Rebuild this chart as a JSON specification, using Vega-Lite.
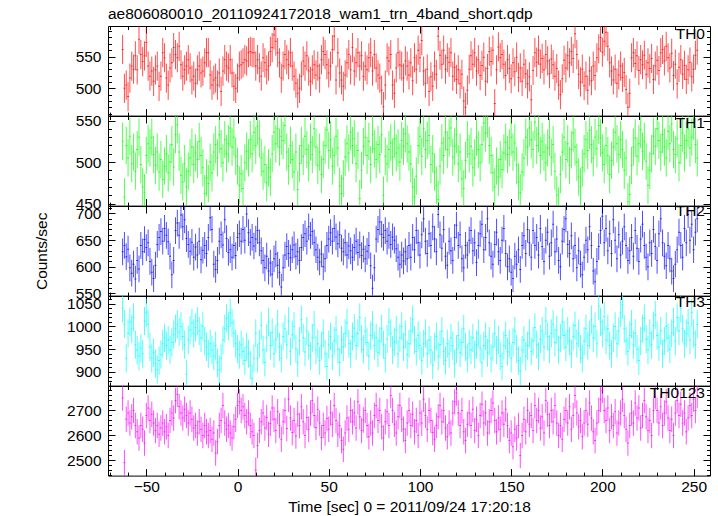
{
"$schema": "https://vega.github.io/schema/vega-lite/v6.json",
"padding": {"left": 33, "top": 7, "right": 0, "bottom": 0},
"title": {"text": "ae806080010_20110924172018_wam1_trn_4band_short.qdp", "anchor": "start", "frame": "group", "offset": 1},
"datasets": {"lc": [
{"t":-63,"a":561,"b":525,"c":628,"d":1040,"e":2750},
{"t":-62,"a":500,"b":458,"c":640,"d":1005,"e":2490},
{"t":-61,"a":505,"b":520,"c":619,"d":930,"e":2665},
{"t":-60,"a":487,"b":505,"c":633,"d":985,"e":2690},
{"t":-59,"a":516,"b":531,"c":598,"d":1010,"e":2650},
{"t":-58,"a":535,"b":498,"c":588,"d":995,"e":2675},
{"t":-57,"a":530,"b":512,"c":605,"d":1020,"e":2700},
{"t":-56,"a":551,"b":489,"c":577,"d":960,"e":2640},
{"t":-55,"a":529,"b":515,"c":612,"d":948,"e":2615},
{"t":-54,"a":577,"b":530,"c":596,"d":935,"e":2590},
{"t":-53,"a":553,"b":497,"c":640,"d":952,"e":2640},
{"t":-52,"a":542,"b":470,"c":628,"d":940,"e":2625},
{"t":-51,"a":551,"b":463,"c":651,"d":1012,"e":2570},
{"t":-50,"a":572,"b":508,"c":636,"d":1030,"e":2680},
{"t":-49,"a":535,"b":522,"c":645,"d":1005,"e":2710},
{"t":-48,"a":519,"b":517,"c":610,"d":955,"e":2660},
{"t":-47,"a":527,"b":530,"c":590,"d":930,"e":2685},
{"t":-46,"a":511,"b":509,"c":578,"d":942,"e":2650},
{"t":-45,"a":529,"b":496,"c":603,"d":918,"e":2620},
{"t":-44,"a":535,"b":512,"c":642,"d":905,"e":2640},
{"t":-43,"a":503,"b":488,"c":655,"d":925,"e":2605},
{"t":-42,"a":519,"b":503,"c":666,"d":938,"e":2630},
{"t":-41,"a":556,"b":479,"c":648,"d":962,"e":2650},
{"t":-40,"a":548,"b":495,"c":672,"d":975,"e":2615},
{"t":-39,"a":516,"b":510,"c":659,"d":958,"e":2635},
{"t":-38,"a":505,"b":487,"c":647,"d":970,"e":2600},
{"t":-37,"a":532,"b":500,"c":620,"d":948,"e":2660},
{"t":-36,"a":540,"b":521,"c":585,"d":965,"e":2690},
{"t":-35,"a":564,"b":494,"c":612,"d":982,"e":2670},
{"t":-34,"a":553,"b":533,"c":668,"d":995,"e":2740},
{"t":-33,"a":548,"b":545,"c":682,"d":1005,"e":2765},
{"t":-32,"a":566,"b":512,"c":659,"d":988,"e":2715},
{"t":-31,"a":537,"b":484,"c":697,"d":1000,"e":2690},
{"t":-30,"a":519,"b":476,"c":675,"d":978,"e":2670},
{"t":-29,"a":529,"b":498,"c":688,"d":960,"e":2705},
{"t":-28,"a":535,"b":470,"c":653,"d":895,"e":2680},
{"t":-27,"a":545,"b":489,"c":642,"d":970,"e":2650},
{"t":-26,"a":532,"b":505,"c":629,"d":992,"e":2690},
{"t":-25,"a":513,"b":518,"c":646,"d":1008,"e":2665},
{"t":-24,"a":519,"b":497,"c":618,"d":985,"e":2630},
{"t":-23,"a":508,"b":511,"c":637,"d":998,"e":2640},
{"t":-22,"a":529,"b":503,"c":622,"d":1012,"e":2610},
{"t":-21,"a":535,"b":525,"c":648,"d":990,"e":2655},
{"t":-20,"a":524,"b":508,"c":613,"d":975,"e":2625},
{"t":-19,"a":527,"b":493,"c":631,"d":1000,"e":2600},
{"t":-18,"a":540,"b":462,"c":640,"d":968,"e":2640},
{"t":-17,"a":556,"b":481,"c":625,"d":955,"e":2615},
{"t":-16,"a":556,"b":474,"c":655,"d":940,"e":2600},
{"t":-15,"a":521,"b":500,"c":692,"d":962,"e":2620},
{"t":-14,"a":505,"b":487,"c":670,"d":948,"e":2585},
{"t":-13,"a":513,"b":512,"c":605,"d":935,"e":2610},
{"t":-12,"a":516,"b":521,"c":595,"d":958,"e":2530},
{"t":-11,"a":505,"b":505,"c":612,"d":920,"e":2575},
{"t":-10,"a":524,"b":533,"c":648,"d":905,"e":2640},
{"t":-9,"a":495,"b":516,"c":660,"d":930,"e":2660},
{"t":-8,"a":527,"b":499,"c":641,"d":970,"e":2720},
{"t":-7,"a":545,"b":527,"c":688,"d":995,"e":2650},
{"t":-6,"a":535,"b":510,"c":653,"d":1018,"e":2625},
{"t":-5,"a":532,"b":522,"c":627,"d":1000,"e":2640},
{"t":-4,"a":545,"b":541,"c":632,"d":1030,"e":2610},
{"t":-3,"a":524,"b":518,"c":618,"d":1008,"e":2590},
{"t":-2,"a":503,"b":530,"c":640,"d":985,"e":2635},
{"t":-1,"a":500,"b":507,"c":621,"d":962,"e":2665},
{"t":0,"a":516,"b":495,"c":655,"d":950,"e":2720},
{"t":1,"a":535,"b":472,"c":662,"d":938,"e":2735},
{"t":2,"a":537,"b":486,"c":648,"d":960,"e":2700},
{"t":3,"a":540,"b":468,"c":670,"d":945,"e":2715},
{"t":4,"a":545,"b":499,"c":650,"d":925,"e":2680},
{"t":5,"a":543,"b":513,"c":699,"d":955,"e":2655},
{"t":6,"a":556,"b":505,"c":664,"d":940,"e":2690},
{"t":7,"a":558,"b":527,"c":646,"d":915,"e":2640},
{"t":8,"a":556,"b":510,"c":655,"d":885,"e":2615},
{"t":9,"a":556,"b":536,"c":639,"d":930,"e":2600},
{"t":10,"a":535,"b":520,"c":652,"d":985,"e":2460},
{"t":11,"a":545,"b":543,"c":668,"d":930,"e":2560},
{"t":12,"a":532,"b":528,"c":645,"d":962,"e":2620},
{"t":13,"a":519,"b":505,"c":630,"d":1002,"e":2655},
{"t":14,"a":548,"b":489,"c":612,"d":948,"e":2690},
{"t":15,"a":540,"b":497,"c":598,"d":921,"e":2630},
{"t":16,"a":529,"b":475,"c":620,"d":975,"e":2672},
{"t":17,"a":535,"b":493,"c":592,"d":1010,"e":2605},
{"t":18,"a":558,"b":482,"c":607,"d":958,"e":2648},
{"t":19,"a":564,"b":510,"c":586,"d":987,"e":2710},
{"t":20,"a":584,"b":536,"c":615,"d":940,"e":2665},
{"t":21,"a":574,"b":522,"c":624,"d":972,"e":2620},
{"t":22,"a":556,"b":540,"c":603,"d":1005,"e":2695},
{"t":23,"a":540,"b":518,"c":590,"d":955,"e":2640},
{"t":24,"a":516,"b":531,"c":562,"d":930,"e":2585},
{"t":25,"a":535,"b":526,"c":598,"d":978,"e":2655},
{"t":26,"a":553,"b":544,"c":622,"d":995,"e":2700},
{"t":27,"a":545,"b":512,"c":638,"d":960,"e":2628},
{"t":28,"a":537,"b":495,"c":625,"d":1012,"e":2745},
{"t":29,"a":556,"b":520,"c":617,"d":945,"e":2670},
{"t":30,"a":535,"b":503,"c":632,"d":982,"e":2612},
{"t":31,"a":519,"b":488,"c":641,"d":1000,"e":2660},
{"t":32,"a":508,"b":512,"c":620,"d":951,"e":2598},
{"t":33,"a":492,"b":467,"c":628,"d":920,"e":2685},
{"t":34,"a":500,"b":498,"c":612,"d":968,"e":2640},
{"t":35,"a":519,"b":520,"c":636,"d":1015,"e":2715},
{"t":36,"a":543,"b":507,"c":655,"d":975,"e":2655},
{"t":37,"a":535,"b":531,"c":662,"d":944,"e":2600},
{"t":38,"a":551,"b":515,"c":648,"d":990,"e":2672},
{"t":39,"a":527,"b":499,"c":675,"d":958,"e":2625},
{"t":40,"a":511,"b":524,"c":659,"d":935,"e":2690},
{"t":41,"a":529,"b":509,"c":666,"d":975,"e":2740},
{"t":42,"a":537,"b":540,"c":645,"d":1003,"e":2680},
{"t":43,"a":521,"b":518,"c":632,"d":948,"e":2632},
{"t":44,"a":535,"b":496,"c":618,"d":962,"e":2705},
{"t":45,"a":516,"b":512,"c":609,"d":925,"e":2650},
{"t":46,"a":545,"b":485,"c":624,"d":958,"e":2592},
{"t":47,"a":558,"b":503,"c":600,"d":985,"e":2640},
{"t":48,"a":553,"b":520,"c":615,"d":940,"e":2610},
{"t":49,"a":537,"b":539,"c":640,"d":912,"e":2668},
{"t":50,"a":524,"b":514,"c":652,"d":960,"e":2625},
{"t":51,"a":535,"b":527,"c":664,"d":978,"e":2690},
{"t":52,"a":561,"b":495,"c":648,"d":935,"e":2645},
{"t":53,"a":582,"b":508,"c":672,"d":968,"e":2720},
{"t":54,"a":513,"b":531,"c":656,"d":992,"e":2660},
{"t":55,"a":556,"b":517,"c":643,"d":950,"e":2605},
{"t":56,"a":524,"b":471,"c":660,"d":921,"e":2640},
{"t":57,"a":513,"b":462,"c":635,"d":970,"e":2580},
{"t":58,"a":503,"b":480,"c":628,"d":955,"e":2545},
{"t":59,"a":521,"b":506,"c":645,"d":985,"e":2610},
{"t":60,"a":540,"b":522,"c":622,"d":1008,"e":2670},
{"t":61,"a":553,"b":511,"c":639,"d":962,"e":2625},
{"t":62,"a":529,"b":536,"c":630,"d":940,"e":2700},
{"t":63,"a":564,"b":520,"c":618,"d":978,"e":2655},
{"t":64,"a":527,"b":528,"c":636,"d":996,"e":2690},
{"t":65,"a":540,"b":498,"c":648,"d":958,"e":2630},
{"t":66,"a":556,"b":514,"c":627,"d":985,"e":2735},
{"t":67,"a":535,"b":456,"c":641,"d":1020,"e":2675},
{"t":68,"a":551,"b":490,"c":621,"d":972,"e":2620},
{"t":69,"a":519,"b":519,"c":633,"d":950,"e":2662},
{"t":70,"a":535,"b":530,"c":615,"d":990,"e":2700},
{"t":71,"a":529,"b":508,"c":629,"d":965,"e":2640},
{"t":72,"a":548,"b":525,"c":640,"d":935,"e":2595},
{"t":73,"a":556,"b":497,"c":602,"d":980,"e":2650},
{"t":74,"a":527,"b":533,"c":560,"d":1003,"e":2610},
{"t":75,"a":553,"b":516,"c":598,"d":958,"e":2680},
{"t":76,"a":532,"b":503,"c":652,"d":975,"e":2720},
{"t":77,"a":521,"b":521,"c":670,"d":942,"e":2660},
{"t":78,"a":516,"b":509,"c":684,"d":968,"e":2700},
{"t":79,"a":497,"b":533,"c":661,"d":995,"e":2635},
{"t":80,"a":471,"b":460,"c":655,"d":960,"e":2590},
{"t":81,"a":505,"b":507,"c":668,"d":930,"e":2655},
{"t":82,"a":548,"b":498,"c":648,"d":972,"e":2695},
{"t":83,"a":543,"b":515,"c":659,"d":1010,"e":2640},
{"t":84,"a":553,"b":523,"c":642,"d":985,"e":2760},
{"t":85,"a":505,"b":506,"c":656,"d":948,"e":2700},
{"t":86,"a":492,"b":528,"c":650,"d":966,"e":2645},
{"t":87,"a":532,"b":511,"c":634,"d":992,"e":2610},
{"t":88,"a":556,"b":517,"c":618,"d":940,"e":2675},
{"t":89,"a":537,"b":500,"c":605,"d":975,"e":2720},
{"t":90,"a":535,"b":526,"c":622,"d":1000,"e":2665},
{"t":91,"a":516,"b":519,"c":611,"d":955,"e":2625},
{"t":92,"a":543,"b":534,"c":628,"d":982,"e":2580},
{"t":93,"a":535,"b":522,"c":615,"d":938,"e":2650},
{"t":94,"a":521,"b":512,"c":640,"d":962,"e":2700},
{"t":95,"a":540,"b":498,"c":618,"d":990,"e":2640},
{"t":96,"a":512,"b":470,"c":655,"d":1015,"e":2685},
{"t":97,"a":548,"b":458,"c":632,"d":970,"e":2615},
{"t":98,"a":530,"b":483,"c":668,"d":945,"e":2660},
{"t":99,"a":560,"b":520,"c":645,"d":980,"e":2600},
{"t":100,"a":548,"b":531,"c":622,"d":958,"e":2690},
{"t":101,"a":575,"b":507,"c":660,"d":925,"e":2650},
{"t":102,"a":527,"b":540,"c":690,"d":962,"e":2745},
{"t":103,"a":508,"b":515,"c":648,"d":985,"e":2680},
{"t":104,"a":530,"b":526,"c":625,"d":940,"e":2625},
{"t":105,"a":495,"b":532,"c":662,"d":970,"e":2700},
{"t":106,"a":518,"b":497,"c":640,"d":948,"e":2660},
{"t":107,"a":503,"b":510,"c":675,"d":915,"e":2612},
{"t":108,"a":535,"b":488,"c":652,"d":955,"e":2585},
{"t":109,"a":522,"b":472,"c":628,"d":978,"e":2640},
{"t":110,"a":582,"b":455,"c":698,"d":935,"e":2675},
{"t":111,"a":552,"b":495,"c":660,"d":960,"e":2720},
{"t":112,"a":538,"b":523,"c":635,"d":990,"e":2655},
{"t":113,"a":560,"b":508,"c":670,"d":945,"e":2700},
{"t":114,"a":530,"b":536,"c":620,"d":925,"e":2630},
{"t":115,"a":548,"b":515,"c":603,"d":962,"e":2595},
{"t":116,"a":541,"b":529,"c":648,"d":940,"e":2650},
{"t":117,"a":556,"b":541,"c":630,"d":975,"e":2610},
{"t":118,"a":519,"b":506,"c":612,"d":958,"e":2690},
{"t":119,"a":533,"b":519,"c":655,"d":918,"e":2735},
{"t":120,"a":514,"b":533,"c":678,"d":950,"e":2770},
{"t":121,"a":529,"b":498,"c":640,"d":980,"e":2690},
{"t":122,"a":507,"b":512,"c":660,"d":942,"e":2640},
{"t":123,"a":522,"b":480,"c":615,"d":965,"e":2700},
{"t":124,"a":480,"b":468,"c":598,"d":995,"e":2615},
{"t":125,"a":470,"b":502,"c":640,"d":955,"e":2580},
{"t":126,"a":497,"b":527,"c":622,"d":930,"e":2645},
{"t":127,"a":530,"b":510,"c":650,"d":962,"e":2690},
{"t":128,"a":551,"b":519,"c":668,"d":948,"e":2640},
{"t":129,"a":538,"b":493,"c":630,"d":975,"e":2705},
{"t":130,"a":556,"b":505,"c":645,"d":938,"e":2620},
{"t":131,"a":527,"b":530,"c":608,"d":960,"e":2665},
{"t":132,"a":545,"b":515,"c":640,"d":985,"e":2600},
{"t":133,"a":520,"b":499,"c":662,"d":952,"e":2680},
{"t":134,"a":536,"b":521,"c":680,"d":920,"e":2725},
{"t":135,"a":549,"b":547,"c":632,"d":958,"e":2650},
{"t":136,"a":511,"b":535,"c":655,"d":978,"e":2690},
{"t":137,"a":531,"b":552,"c":690,"d":942,"e":2610},
{"t":138,"a":558,"b":520,"c":645,"d":968,"e":2655},
{"t":139,"a":542,"b":508,"c":620,"d":930,"e":2700},
{"t":140,"a":560,"b":487,"c":605,"d":955,"e":2730},
{"t":141,"a":476,"b":470,"c":642,"d":985,"e":2660},
{"t":142,"a":529,"b":495,"c":665,"d":948,"e":2615},
{"t":143,"a":565,"b":482,"c":628,"d":970,"e":2670},
{"t":144,"a":548,"b":503,"c":612,"d":935,"e":2625},
{"t":145,"a":553,"b":491,"c":650,"d":912,"e":2690},
{"t":146,"a":538,"b":511,"c":672,"d":958,"e":2645},
{"t":147,"a":520,"b":524,"c":625,"d":980,"e":2705},
{"t":148,"a":545,"b":509,"c":600,"d":945,"e":2640},
{"t":149,"a":531,"b":517,"c":615,"d":962,"e":2580},
{"t":150,"a":515,"b":530,"c":590,"d":930,"e":2610},
{"t":151,"a":540,"b":512,"c":578,"d":965,"e":2555},
{"t":152,"a":526,"b":523,"c":620,"d":990,"e":2625},
{"t":153,"a":549,"b":496,"c":605,"d":950,"e":2590},
{"t":154,"a":517,"b":476,"c":632,"d":925,"e":2640},
{"t":155,"a":532,"b":463,"c":595,"d":902,"e":2520},
{"t":156,"a":511,"b":488,"c":640,"d":948,"e":2600},
{"t":157,"a":538,"b":505,"c":658,"d":970,"e":2665},
{"t":158,"a":523,"b":530,"c":625,"d":935,"e":2615},
{"t":159,"a":507,"b":518,"c":670,"d":958,"e":2700},
{"t":160,"a":518,"b":541,"c":645,"d":985,"e":2645},
{"t":161,"a":482,"b":527,"c":618,"d":945,"e":2680},
{"t":162,"a":528,"b":515,"c":668,"d":968,"e":2620},
{"t":163,"a":556,"b":548,"c":640,"d":998,"e":2720},
{"t":164,"a":541,"b":520,"c":655,"d":960,"e":2660},
{"t":165,"a":560,"b":534,"c":622,"d":935,"e":2700},
{"t":166,"a":538,"b":508,"c":672,"d":972,"e":2630},
{"t":167,"a":547,"b":525,"c":638,"d":990,"e":2675},
{"t":168,"a":529,"b":512,"c":610,"d":955,"e":2610},
{"t":169,"a":553,"b":499,"c":650,"d":1012,"e":2740},
{"t":170,"a":543,"b":517,"c":665,"d":978,"e":2685},
{"t":171,"a":523,"b":530,"c":620,"d":950,"e":2640},
{"t":172,"a":546,"b":506,"c":645,"d":985,"e":2700},
{"t":173,"a":537,"b":521,"c":680,"d":1005,"e":2655},
{"t":174,"a":519,"b":489,"c":628,"d":965,"e":2720},
{"t":175,"a":531,"b":460,"c":652,"d":992,"e":2650},
{"t":176,"a":505,"b":447,"c":612,"d":948,"e":2600},
{"t":177,"a":490,"b":485,"c":600,"d":975,"e":2640},
{"t":178,"a":515,"b":512,"c":648,"d":1010,"e":2585},
{"t":179,"a":544,"b":530,"c":670,"d":980,"e":2665},
{"t":180,"a":532,"b":503,"c":690,"d":955,"e":2700},
{"t":181,"a":551,"b":522,"c":642,"d":990,"e":2650},
{"t":182,"a":540,"b":496,"c":625,"d":968,"e":2715},
{"t":183,"a":558,"b":515,"c":658,"d":940,"e":2625},
{"t":184,"a":547,"b":535,"c":615,"d":978,"e":2680},
{"t":185,"a":586,"b":518,"c":640,"d":1002,"e":2760},
{"t":186,"a":553,"b":500,"c":598,"d":962,"e":2690},
{"t":187,"a":522,"b":482,"c":630,"d":985,"e":2635},
{"t":188,"a":510,"b":470,"c":605,"d":950,"e":2660},
{"t":189,"a":530,"b":493,"c":585,"d":930,"e":2595},
{"t":190,"a":504,"b":510,"c":618,"d":968,"e":2650},
{"t":191,"a":519,"b":527,"c":650,"d":995,"e":2700},
{"t":192,"a":497,"b":514,"c":632,"d":958,"e":2645},
{"t":193,"a":527,"b":538,"c":675,"d":982,"e":2730},
{"t":194,"a":512,"b":521,"c":640,"d":1015,"e":2670},
{"t":195,"a":535,"b":505,"c":592,"d":975,"e":2615},
{"t":196,"a":520,"b":530,"c":572,"d":1000,"e":2580},
{"t":197,"a":548,"b":516,"c":610,"d":962,"e":2650},
{"t":198,"a":562,"b":544,"c":638,"d":1045,"e":2700},
{"t":199,"a":580,"b":529,"c":668,"d":1010,"e":2745},
{"t":200,"a":557,"b":511,"c":695,"d":985,"e":2780},
{"t":201,"a":574,"b":497,"c":645,"d":1022,"e":2700},
{"t":202,"a":588,"b":520,"c":672,"d":970,"e":2660},
{"t":203,"a":566,"b":508,"c":630,"d":995,"e":2710},
{"t":204,"a":540,"b":485,"c":662,"d":958,"e":2620},
{"t":205,"a":527,"b":502,"c":625,"d":940,"e":2675},
{"t":206,"a":513,"b":518,"c":688,"d":975,"e":2640},
{"t":207,"a":530,"b":536,"c":650,"d":1000,"e":2695},
{"t":208,"a":508,"b":522,"c":615,"d":962,"e":2610},
{"t":209,"a":521,"b":509,"c":660,"d":990,"e":2650},
{"t":210,"a":535,"b":527,"c":622,"d":1030,"e":2690},
{"t":211,"a":517,"b":515,"c":648,"d":1048,"e":2745},
{"t":212,"a":525,"b":490,"c":675,"d":995,"e":2680},
{"t":213,"a":498,"b":505,"c":640,"d":968,"e":2625},
{"t":214,"a":470,"b":452,"c":612,"d":945,"e":2570},
{"t":215,"a":492,"b":461,"c":630,"d":980,"e":2640},
{"t":216,"a":548,"b":496,"c":655,"d":1005,"e":2690},
{"t":217,"a":556,"b":518,"c":620,"d":960,"e":2650},
{"t":218,"a":539,"b":529,"c":668,"d":985,"e":2730},
{"t":219,"a":551,"b":507,"c":635,"d":950,"e":2670},
{"t":220,"a":528,"b":522,"c":610,"d":925,"e":2710},
{"t":221,"a":545,"b":539,"c":652,"d":968,"e":2630},
{"t":222,"a":537,"b":513,"c":680,"d":995,"e":2680},
{"t":223,"a":552,"b":525,"c":640,"d":1018,"e":2740},
{"t":224,"a":522,"b":501,"c":618,"d":972,"e":2675},
{"t":225,"a":540,"b":472,"c":600,"d":948,"e":2620},
{"t":226,"a":531,"b":490,"c":645,"d":985,"e":2660},
{"t":227,"a":547,"b":510,"c":625,"d":960,"e":2600},
{"t":228,"a":514,"b":531,"c":670,"d":1002,"e":2700},
{"t":229,"a":535,"b":519,"c":638,"d":1025,"e":2755},
{"t":230,"a":544,"b":540,"c":612,"d":980,"e":2700},
{"t":231,"a":528,"b":526,"c":662,"d":955,"e":2650},
{"t":232,"a":556,"b":512,"c":690,"d":990,"e":2715},
{"t":233,"a":561,"b":533,"c":645,"d":940,"e":2640},
{"t":234,"a":543,"b":518,"c":620,"d":968,"e":2690},
{"t":235,"a":566,"b":505,"c":602,"d":1000,"e":2735},
{"t":236,"a":548,"b":537,"c":640,"d":975,"e":2670},
{"t":237,"a":532,"b":522,"c":615,"d":950,"e":2620},
{"t":238,"a":555,"b":546,"c":592,"d":985,"e":2665},
{"t":239,"a":520,"b":515,"c":578,"d":1010,"e":2600},
{"t":240,"a":538,"b":509,"c":605,"d":968,"e":2690},
{"t":241,"a":507,"b":528,"c":632,"d":1020,"e":2740},
{"t":242,"a":533,"b":499,"c":665,"d":990,"e":2680},
{"t":243,"a":545,"b":520,"c":640,"d":1040,"e":2725},
{"t":244,"a":522,"b":535,"c":618,"d":995,"e":2650},
{"t":245,"a":536,"b":511,"c":672,"d":962,"e":2690},
{"t":246,"a":514,"b":526,"c":645,"d":985,"e":2615},
{"t":247,"a":529,"b":540,"c":698,"d":1008,"e":2670},
{"t":248,"a":541,"b":517,"c":650,"d":970,"e":2720},
{"t":249,"a":518,"b":530,"c":680,"d":1030,"e":2680},
{"t":250,"a":530,"b":549,"c":632,"d":985,"e":2745},
{"t":251,"a":552,"b":521,"c":665,"d":960,"e":2700},
{"t":252,"a":560,"b":505,"c":690,"d":1005,"e":2760}
]},
"data": {"name": "lc"},
"spacing": 0,
"bounds": "flush",
"vconcat": [
{
 "width": 602, "height": 89.6,
 "title": {"text": "TH0", "anchor": "end", "offset": -18, "dx": -5, "frame": "group"},
 "layer": [
  {"mark": {"type": "tick", "orient": "vertical", "color": "#ff0000", "size": 29.2, "thickness": 1, "clip": true},
   "encoding": {
    "x": {"field": "t", "type": "quantitative", "scale": {"domain": [-71, 259], "nice": false, "zero": false},
          "axis": {"orient": "bottom", "values": [-70,-60,-50,-40,-30,-20,-10,0,10,20,30,40,50,60,70,80,90,100,110,120,130,140,150,160,170,180,190,200,210,220,230,240,250], "tickSize": {"condition": {"test": "datum.value % 50 === 0", "value": -7}, "value": -3.5}, "labels": false, "title": null}},
    "y": {"field": "a", "type": "quantitative", "scale": {"domain": [457, 598], "nice": false, "zero": false},
          "axis": {"orient": "left", "values": [460,470,480,490,500,510,520,530,540,550,560,570,580,590], "tickSize": {"condition": {"test": "datum.value % 50 === 0", "value": -7}, "value": -3.5}, "format": "d", "labelExpr": "datum.value % 50 === 0 ? datum.label : ''", "labelPadding": 14, "title": null}}}},
  {"mark": {"type": "tick", "orient": "horizontal", "color": "#ff0000", "size": 2, "thickness": 1, "clip": true},
   "encoding": {
    "x": {"field": "t", "type": "quantitative",
          "axis": {"orient": "top", "values": [-70,-60,-50,-40,-30,-20,-10,0,10,20,30,40,50,60,70,80,90,100,110,120,130,140,150,160,170,180,190,200,210,220,230,240,250], "tickSize": {"condition": {"test": "datum.value % 50 === 0", "value": -7}, "value": -3.5}, "labels": false, "title": null}},
    "y": {"field": "a", "type": "quantitative",
          "axis": {"orient": "right", "values": [460,470,480,490,500,510,520,530,540,550,560,570,580,590], "tickSize": {"condition": {"test": "datum.value % 50 === 0", "value": -7}, "value": -3.5}, "labels": false, "title": null}}}}
 ],
 "resolve": {"axis": {"x": "independent", "y": "independent"}}
},
{
 "width": 602, "height": 89.6,
 "title": {"text": "TH1", "anchor": "end", "offset": -18, "dx": -5, "frame": "group"},
 "layer": [
  {"mark": {"type": "tick", "orient": "vertical", "color": "#00ff00", "size": 37.3, "thickness": 1, "clip": true},
   "encoding": {
    "x": {"field": "t", "type": "quantitative", "scale": {"domain": [-71, 259], "nice": false, "zero": false},
          "axis": {"orient": "bottom", "values": [-70,-60,-50,-40,-30,-20,-10,0,10,20,30,40,50,60,70,80,90,100,110,120,130,140,150,160,170,180,190,200,210,220,230,240,250], "tickSize": {"condition": {"test": "datum.value % 50 === 0", "value": -7}, "value": -3.5}, "labels": false, "title": null}},
    "y": {"field": "b", "type": "quantitative", "scale": {"domain": [447.5, 555.5], "nice": false, "zero": false},
          "axis": {"orient": "left", "values": [450,460,470,480,490,500,510,520,530,540,550], "tickSize": {"condition": {"test": "datum.value % 50 === 0", "value": -7}, "value": -3.5}, "format": "d", "labelExpr": "datum.value % 50 === 0 ? datum.label : ''", "labelPadding": 14, "title": null}}}},
  {"mark": {"type": "tick", "orient": "horizontal", "color": "#00ff00", "size": 2, "thickness": 1, "clip": true},
   "encoding": {
    "x": {"field": "t", "type": "quantitative",
          "axis": {"orient": "top", "values": [-70,-60,-50,-40,-30,-20,-10,0,10,20,30,40,50,60,70,80,90,100,110,120,130,140,150,160,170,180,190,200,210,220,230,240,250], "tickSize": {"condition": {"test": "datum.value % 50 === 0", "value": -7}, "value": -3.5}, "labels": false, "title": null}},
    "y": {"field": "b", "type": "quantitative",
          "axis": {"orient": "right", "values": [450,460,470,480,490,500,510,520,530,540,550], "tickSize": {"condition": {"test": "datum.value % 50 === 0", "value": -7}, "value": -3.5}, "labels": false, "title": null}}}}
 ],
 "resolve": {"axis": {"x": "independent", "y": "independent"}}
},
{
 "width": 602, "height": 89.6,
 "title": {"text": "TH2", "anchor": "end", "offset": -18, "dx": -5, "frame": "group"},
 "layer": [
  {"mark": {"type": "tick", "orient": "vertical", "color": "#0000ff", "size": 26.7, "thickness": 1, "clip": true},
   "encoding": {
    "x": {"field": "t", "type": "quantitative", "scale": {"domain": [-71, 259], "nice": false, "zero": false},
          "axis": {"orient": "bottom", "values": [-70,-60,-50,-40,-30,-20,-10,0,10,20,30,40,50,60,70,80,90,100,110,120,130,140,150,160,170,180,190,200,210,220,230,240,250], "tickSize": {"condition": {"test": "datum.value % 50 === 0", "value": -7}, "value": -3.5}, "labels": false, "title": null}},
    "y": {"field": "c", "type": "quantitative", "scale": {"domain": [546, 714], "nice": false, "zero": false},
          "axis": {"orient": "left", "values": [550,560,570,580,590,600,610,620,630,640,650,660,670,680,690,700,710], "tickSize": {"condition": {"test": "datum.value % 50 === 0", "value": -7}, "value": -3.5}, "format": "d", "labelExpr": "datum.value % 50 === 0 ? datum.label : ''", "labelPadding": 14, "title": "Counts/sec", "titlePadding": 26}}}},
  {"mark": {"type": "tick", "orient": "horizontal", "color": "#0000ff", "size": 2, "thickness": 1, "clip": true},
   "encoding": {
    "x": {"field": "t", "type": "quantitative",
          "axis": {"orient": "top", "values": [-70,-60,-50,-40,-30,-20,-10,0,10,20,30,40,50,60,70,80,90,100,110,120,130,140,150,160,170,180,190,200,210,220,230,240,250], "tickSize": {"condition": {"test": "datum.value % 50 === 0", "value": -7}, "value": -3.5}, "labels": false, "title": null}},
    "y": {"field": "c", "type": "quantitative",
          "axis": {"orient": "right", "values": [550,560,570,580,590,600,610,620,630,640,650,660,670,680,690,700,710], "tickSize": {"condition": {"test": "datum.value % 50 === 0", "value": -7}, "value": -3.5}, "labels": false, "title": null}}}}
 ],
 "resolve": {"axis": {"x": "independent", "y": "independent"}}
},
{
 "width": 602, "height": 89.6,
 "title": {"text": "TH3", "anchor": "end", "offset": -18, "dx": -5, "frame": "group"},
 "layer": [
  {"mark": {"type": "tick", "orient": "vertical", "color": "#00ffff", "size": 28.2, "thickness": 1, "clip": true},
   "encoding": {
    "x": {"field": "t", "type": "quantitative", "scale": {"domain": [-71, 259], "nice": false, "zero": false},
          "axis": {"orient": "bottom", "values": [-70,-60,-50,-40,-30,-20,-10,0,10,20,30,40,50,60,70,80,90,100,110,120,130,140,150,160,170,180,190,200,210,220,230,240,250], "tickSize": {"condition": {"test": "datum.value % 50 === 0", "value": -7}, "value": -3.5}, "labels": false, "title": null}},
    "y": {"field": "d", "type": "quantitative", "scale": {"domain": [870, 1067], "nice": false, "zero": false},
          "axis": {"orient": "left", "values": [870,880,890,900,910,920,930,940,950,960,970,980,990,1000,1010,1020,1030,1040,1050,1060], "tickSize": {"condition": {"test": "datum.value % 50 === 0", "value": -7}, "value": -3.5}, "format": "d", "labelExpr": "datum.value % 50 === 0 ? datum.label : ''", "labelPadding": 14, "title": null}}}},
  {"mark": {"type": "tick", "orient": "horizontal", "color": "#00ffff", "size": 2, "thickness": 1, "clip": true},
   "encoding": {
    "x": {"field": "t", "type": "quantitative",
          "axis": {"orient": "top", "values": [-70,-60,-50,-40,-30,-20,-10,0,10,20,30,40,50,60,70,80,90,100,110,120,130,140,150,160,170,180,190,200,210,220,230,240,250], "tickSize": {"condition": {"test": "datum.value % 50 === 0", "value": -7}, "value": -3.5}, "labels": false, "title": null}},
    "y": {"field": "d", "type": "quantitative",
          "axis": {"orient": "right", "values": [870,880,890,900,910,920,930,940,950,960,970,980,990,1000,1010,1020,1030,1040,1050,1060], "tickSize": {"condition": {"test": "datum.value % 50 === 0", "value": -7}, "value": -3.5}, "labels": false, "title": null}}}}
 ],
 "resolve": {"axis": {"x": "independent", "y": "independent"}}
},
{
 "width": 602, "height": 89.6,
 "title": {"text": "TH0123", "anchor": "end", "offset": -18, "dx": -5, "frame": "group"},
 "layer": [
  {"mark": {"type": "tick", "orient": "vertical", "color": "#ff00ff", "size": 25.5, "thickness": 1, "clip": true},
   "encoding": {
    "x": {"field": "t", "type": "quantitative", "scale": {"domain": [-71, 259], "nice": false, "zero": false},
          "axis": {"orient": "bottom", "values": [-70,-60,-50,-40,-30,-20,-10,0,10,20,30,40,50,60,70,80,90,100,110,120,130,140,150,160,170,180,190,200,210,220,230,240,250], "tickSize": {"condition": {"test": "datum.value % 50 === 0", "value": -7}, "value": -3.5}, "format": "d", "labelExpr": "datum.value % 50 === 0 ? datum.label : ''", "labelPadding": 11, "title": "Time [sec] 0 = 2011/09/24 17:20:18", "titlePadding": 1}},
    "y": {"field": "e", "type": "quantitative", "scale": {"domain": [2439, 2798], "nice": false, "zero": false},
          "axis": {"orient": "left", "values": [2440,2460,2480,2500,2520,2540,2560,2580,2600,2620,2640,2660,2680,2700,2720,2740,2760,2780], "tickSize": {"condition": {"test": "datum.value % 100 === 0", "value": -7}, "value": -3.5}, "format": "d", "labelExpr": "datum.value % 100 === 0 ? datum.label : ''", "labelPadding": 14, "title": null}}}},
  {"mark": {"type": "tick", "orient": "horizontal", "color": "#ff00ff", "size": 2, "thickness": 1, "clip": true},
   "encoding": {
    "x": {"field": "t", "type": "quantitative",
          "axis": {"orient": "top", "values": [-70,-60,-50,-40,-30,-20,-10,0,10,20,30,40,50,60,70,80,90,100,110,120,130,140,150,160,170,180,190,200,210,220,230,240,250], "tickSize": {"condition": {"test": "datum.value % 50 === 0", "value": -7}, "value": -3.5}, "labels": false, "title": null}},
    "y": {"field": "e", "type": "quantitative",
          "axis": {"orient": "right", "values": [2440,2460,2480,2500,2520,2540,2560,2580,2600,2620,2640,2660,2680,2700,2720,2740,2760,2780], "tickSize": {"condition": {"test": "datum.value % 100 === 0", "value": -7}, "value": -3.5}, "labels": false, "title": null}}}}
 ],
 "resolve": {"axis": {"x": "independent", "y": "independent"}}
}
],
"config": {
 "view": {"stroke": "black", "strokeWidth": 1},
 "axis": {"domain": false, "grid": false, "tickColor": "black", "tickWidth": 1, "labelFont": "Liberation Sans", "labelFontSize": 15.5, "labelColor": "black", "titleFont": "Liberation Sans", "titleFontSize": 15.5, "titleFontWeight": "normal", "titleColor": "black", "labelOverlap": false, "labelBound": false, "labelFlush": false},
 "title": {"font": "Liberation Sans", "fontSize": 15.5, "fontWeight": "normal", "color": "black"}
}
}
